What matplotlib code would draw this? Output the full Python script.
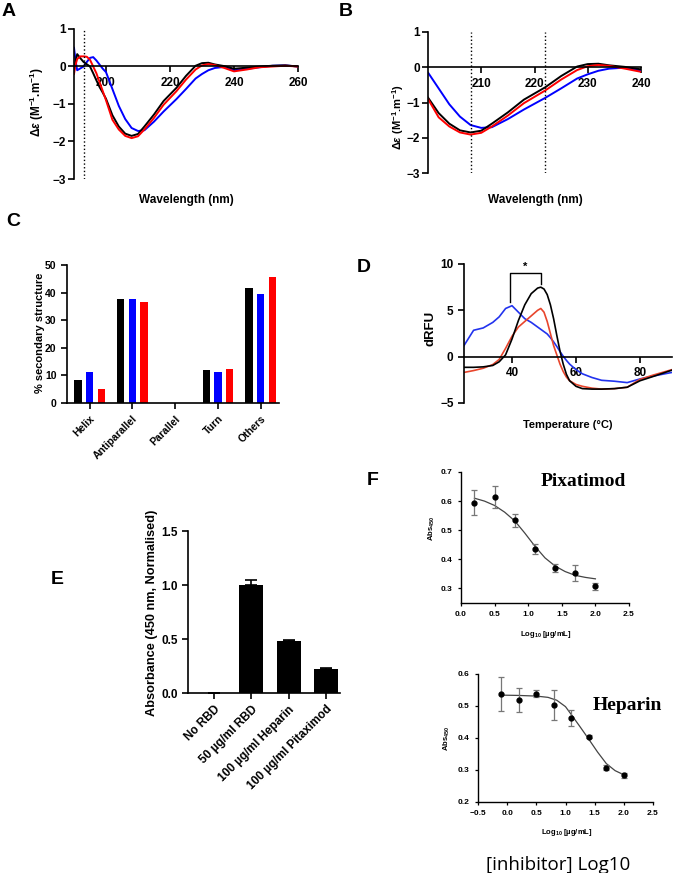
import numpy as np
import matplotlib.pyplot as plt

plt.rcParams['font.family'] = 'Liberation Sans'
plt.rcParams['font.weight'] = 'bold'
plt.rcParams['axes.labelweight'] = 'bold'
plt.rcParams['mathtext.fontset'] = 'custom'
plt.rcParams['mathtext.rm'] = 'Liberation Sans:bold'
plt.rcParams['mathtext.it'] = 'Liberation Sans:italic:bold'
plt.rcParams['mathtext.bf'] = 'Liberation Sans:bold'
plt.rcParams['mathtext.default'] = 'regular'
plt.rcParams['axes.linewidth'] = 1.2
plt.rcParams['xtick.major.width'] = 1.2
plt.rcParams['ytick.major.width'] = 1.2

# --- CD spectra (panels A and B share the data) ---
wavelength = [190, 190.5, 191, 192, 193, 194, 195, 196, 197, 198, 199, 200, 202, 204, 206,
              208, 210, 212, 215, 218, 222, 225, 228, 230, 232, 234, 237, 240, 244, 248,
              252, 256, 260]
cd_black = [-0.1, 0.15, 0.33, 0.22, 0.12, 0.06, 0.0, -0.18, -0.37, -0.55, -0.7, -0.86, -1.3,
            -1.6, -1.79, -1.85, -1.8, -1.6, -1.28, -0.92, -0.57, -0.25, 0.02, 0.09, 0.1, 0.055,
            0.01, -0.06, -0.03, 0.0, 0.02, 0.03, 0.0]
cd_red = [-0.2, 0.05, 0.2, 0.27, 0.27, 0.26, 0.18, 0.0, -0.18, -0.42, -0.66, -0.9, -1.42,
          -1.68, -1.85, -1.91, -1.86, -1.68, -1.37, -1.02, -0.66, -0.35, -0.08, 0.03, 0.065,
          0.04, -0.04, -0.13, -0.08, -0.02, 0.0, 0.02, 0.0]
cd_blue = [0.5, 0.15, -0.1, -0.05, 0.0, 0.12, 0.23, 0.25, 0.16, 0.05, -0.06, -0.15, -0.6,
           -1.05, -1.4, -1.64, -1.72, -1.7, -1.47, -1.2, -0.87, -0.6, -0.32, -0.2, -0.1, -0.04,
           -0.01, -0.1, -0.06, -0.02, 0.02, 0.03, 0.0]
marker_a = [193]
markers_b = [208, 222]

# --- secondary structure (panel C) ---
structures = ['Helix', 'Antiparallel', 'Parallel', 'Turn', 'Others']
ss_black = [8.3, 37.6, 0, 12.0, 41.7]
ss_blue = [11.3, 37.7, 0, 11.1, 39.6]
ss_red = [5.1, 36.7, 0, 12.3, 45.5]

# --- thermal shift (panel D) ---
temperature = [25, 28, 31, 34, 36, 38, 40, 42, 44, 46, 48, 49, 50, 51, 52, 53, 54, 55, 56, 57,
               58, 60, 62, 65, 68, 72, 76, 80, 84, 87, 90]
drfu_black = [-1.15, -1.15, -1.1, -0.95, -0.55, 0.2, 1.9, 3.9, 5.6, 6.8, 7.4, 7.5, 7.3, 6.7,
              5.6, 4.1, 2.3, 0.6, -0.8, -1.9, -2.6, -3.2, -3.45, -3.5, -3.5, -3.45, -3.3, -2.6,
              -2.15, -1.8, -1.45]
drfu_red = [-1.7, -1.5, -1.25, -0.85, -0.3, 0.9, 2.2, 3.2, 3.8, 4.4, 5.0, 5.2, 4.8, 3.8, 2.5,
            1.2, 0.2, -0.8, -1.6, -2.2, -2.6, -3.0, -3.2, -3.4, -3.5, -3.45, -3.3, -2.45, -2.0,
            -1.7, -1.4]
drfu_blue = [1.2, 2.85, 3.1, 3.7, 4.3, 5.2, 5.5, 4.8, 4.1, 3.7, 3.2, 2.95, 2.7, 2.45, 2.05,
             1.6, 1.1, 0.55, 0.05, -0.4, -0.8, -1.4, -1.85, -2.25, -2.55, -2.65, -2.8, -2.4,
             -2.1, -1.9, -1.7]
bracket_x = [39.5, 49.0]
bracket_low = [5.9, 7.8]
bracket_top = 9.0

# --- ELISA (panel E) ---
conditions = ['No RBD', '50 µg/ml RBD', '100 µg/ml Heparin', '100 µg/ml Pitaximod']
absorbance = [0.0, 1.0, 0.48, 0.22]
absorbance_err = [0.0, 0.05, 0.015, 0.012]

# --- dose response (panel F) ---
pix_logc = [0.2, 0.5, 0.8, 1.1, 1.4, 1.7, 2.0]
pix_abs = [0.595, 0.615, 0.534, 0.437, 0.371, 0.352, 0.308]
pix_sd = [0.043, 0.038, 0.022, 0.017, 0.013, 0.028, 0.012]
pix_fit_x = [0.2, 0.35, 0.5, 0.65, 0.8, 0.95, 1.1, 1.25, 1.4, 1.55, 1.7, 1.85, 2.0]
pix_fit_y = [0.610, 0.600, 0.585, 0.562, 0.532, 0.490, 0.445, 0.405, 0.377, 0.358, 0.345,
             0.338, 0.333]
hep_logc = [-0.1, 0.2, 0.5, 0.8, 1.1, 1.4, 1.7, 2.0]
hep_abs = [0.537, 0.519, 0.539, 0.503, 0.463, 0.404, 0.307, 0.283]
hep_sd = [0.053, 0.037, 0.012, 0.047, 0.024, 0.004, 0.008, 0.008]
hep_fit_x = [-0.1, 0.2, 0.5, 0.7, 0.85, 1.0, 1.1, 1.25, 1.4, 1.55, 1.7, 1.85, 2.0]
hep_fit_y = [0.534, 0.533, 0.531, 0.527, 0.518, 0.498, 0.473, 0.435, 0.396, 0.356, 0.320,
             0.298, 0.285]

W, H = 675, 873
fig = plt.figure(figsize=(W / 100, H / 100), dpi=100)


def box(l, t, r, b):
    # axes rectangle from pixel edges
    return [l / W, 1 - b / H, (r - l) / W, (b - t) / H]


def place(axis, x, y):
    axis.set_label_coords(x / W, 1 - y / H, transform=fig.transFigure)
    axis.label.set_va('center')


def clean(ax):
    ax.spines[['top', 'right']].set_visible(False)


def letter(x, y, s):
    fig.text(x / W, 1 - y / H, s, fontsize=14, fontweight='bold', ha='center', va='center')


# Panel A
axA = fig.add_axes(box(74, 29, 298, 179))
axA.plot(wavelength, cd_blue, color='#0000ff', lw=1.4)
axA.plot(wavelength, cd_black, color='black', lw=1.4)
axA.plot(wavelength, cd_red, color='#ff0000', lw=1.4)
for m in marker_a:
    axA.axvline(m, color='black', ls=':', lw=1)
axA.set_xlim(190, 260)
axA.set_ylim(-3, 1)
axA.set_xticks([200, 220, 240, 260])
axA.set_yticks([-3, -2, -1, 0, 1])
clean(axA)
axA.spines['bottom'].set_position(('data', 0))
axA.tick_params(labelsize=8.5, length=4)
axA.tick_params(axis='y', pad=2)
axA.set_xlabel('Wavelength (nm)', fontsize=8.5)
axA.set_ylabel(r'Δ$\mathit{ε}$ (M$^{-1}$.m$^{-1}$)', fontsize=8.5)
place(axA.xaxis, 186, 200)
place(axA.yaxis, 37, 102)

# Panel B
axB = fig.add_axes(box(428, 32, 641, 173))
axB.plot(wavelength, cd_blue, color='#0000ff', lw=1.4)
axB.plot(wavelength, cd_black, color='black', lw=1.4)
axB.plot(wavelength, cd_red, color='#ff0000', lw=1.4)
for m in markers_b:
    axB.axvline(m, color='black', ls=':', lw=1)
axB.set_xlim(200, 240)
axB.set_ylim(-3, 1)
axB.set_xticks([210, 220, 230, 240])
axB.set_yticks([-3, -2, -1, 0, 1])
clean(axB)
axB.spines['bottom'].set_position(('data', 0))
axB.tick_params(labelsize=8.5, length=4)
axB.tick_params(axis='y', pad=2)
axB.set_xlabel('Wavelength (nm)', fontsize=8.5)
axB.set_ylabel(r'Δ$\mathit{ε}$ (M$^{-1}$.m$^{-1}$)', fontsize=8)
place(axB.xaxis, 535, 200)
place(axB.yaxis, 398, 117)

# Panel C
axC = fig.add_axes(box(67, 265, 279, 403))
xc = np.arange(len(structures))
axC.bar(xc - 0.27, ss_black, 0.17, color='black')
axC.bar(xc, ss_blue, 0.17, color='#0000ff')
axC.bar(xc + 0.27, ss_red, 0.17, color='#ff0000')
axC.set_xlim(-0.53, 4.43)
axC.set_ylim(0, 50)
axC.set_yticks([0, 10, 20, 30, 40, 50])
axC.set_xticks(xc)
axC.set_xticklabels(structures, rotation=45, ha='right', rotation_mode='anchor')
clean(axC)
axC.tick_params(labelsize=7.5, length=4)
axC.set_ylabel('% secondary structure', fontsize=8)
place(axC.yaxis, 40, 333)

# Panel D
axD = fig.add_axes(box(464, 264, 672, 403))
axD.plot(temperature, drfu_blue, color='#2233ee', lw=1.2)
axD.plot(temperature, drfu_red, color='#e8452c', lw=1.2)
axD.plot(temperature, drfu_black, color='black', lw=1.2)
axD.plot([bracket_x[0], bracket_x[0], bracket_x[1], bracket_x[1]],
         [bracket_low[0], bracket_top, bracket_top, bracket_low[1]], color='black', lw=1)
axD.text(np.mean(bracket_x), bracket_top + 0.2, '*', ha='center', va='bottom', fontsize=8)
axD.set_xlim(25, 90)
axD.set_ylim(-5, 10)
axD.set_xticks([40, 60, 80])
axD.set_yticks([-5, 0, 5, 10])
clean(axD)
axD.spines['bottom'].set_position(('data', 0))
axD.tick_params(labelsize=8.5, length=4)
axD.set_xlabel('Temperature (°C)', fontsize=8)
axD.set_ylabel('dRFU', fontsize=9.5)
place(axD.xaxis, 568, 425)
place(axD.yaxis, 430, 328)

# Panel E
axE = fig.add_axes(box(188, 531, 340, 693))
xe = np.arange(len(conditions))
axE.bar(xe, absorbance, 0.64, color='black')
axE.errorbar(xe, absorbance, yerr=[np.zeros(len(xe)), absorbance_err], fmt='none',
             ecolor='black', capsize=4, elinewidth=1.2, capthick=1.2)
axE.set_xlim(-0.68, 3.37)
axE.set_ylim(0, 1.5)
axE.set_yticks([0.0, 0.5, 1.0, 1.5])
axE.set_xticks(xe)
axE.set_xticklabels(conditions, rotation=45, ha='right', rotation_mode='anchor')
clean(axE)
axE.tick_params(labelsize=8.5, length=4)
axE.set_ylabel('Absorbance (450 nm, Normalised)', fontsize=9.2)
place(axE.yaxis, 152, 613)

# Panel F, pixatimod
axF1 = fig.add_axes(box(461, 472, 629, 603))
axF1.plot(pix_fit_x, pix_fit_y, color='#444444', lw=0.9)
axF1.errorbar(pix_logc, pix_abs, yerr=pix_sd, fmt='o', color='black', ms=3.5,
              ecolor='#777777', elinewidth=0.9, capsize=2.5, capthick=0.9)
axF1.set_xlim(0, 2.5)
axF1.set_ylim(0.25, 0.7)
axF1.set_xticks([0.0, 0.5, 1.0, 1.5, 2.0, 2.5])
axF1.set_yticks([0.3, 0.4, 0.5, 0.6, 0.7])
clean(axF1)
for s in ['left', 'bottom']:
    axF1.spines[s].set_linewidth(1)
axF1.tick_params(labelsize=6, length=2.5, width=0.9)
axF1.set_xlabel(r'Log$_{10}$ [µg/mL]', fontsize=5.5)
axF1.set_ylabel(r'Abs$_{450}$', fontsize=5.5)
place(axF1.xaxis, 546, 635)
place(axF1.yaxis, 432, 528)
fig.text(583 / W, 1 - 481 / H, 'Pixatimod', family='Liberation Serif', fontweight='bold',
         fontsize=14, ha='center', va='center')

# Panel F, heparin
axF2 = fig.add_axes(box(478, 674, 653, 802))
axF2.plot(hep_fit_x, hep_fit_y, color='#444444', lw=0.9)
axF2.errorbar(hep_logc, hep_abs, yerr=hep_sd, fmt='o', color='black', ms=3.5,
              ecolor='#777777', elinewidth=0.9, capsize=2.5, capthick=0.9)
axF2.set_xlim(-0.5, 2.5)
axF2.set_ylim(0.2, 0.6)
axF2.set_xticks([-0.5, 0.0, 0.5, 1.0, 1.5, 2.0, 2.5])
axF2.set_yticks([0.2, 0.3, 0.4, 0.5, 0.6])
clean(axF2)
for s in ['left', 'bottom']:
    axF2.spines[s].set_linewidth(1)
axF2.tick_params(labelsize=6, length=2.5, width=0.9)
axF2.set_xlabel(r'Log$_{10}$ [µg/mL]', fontsize=5.5)
axF2.set_ylabel(r'Abs$_{450}$', fontsize=5.5)
place(axF2.xaxis, 567, 833)
place(axF2.yaxis, 447, 738)
fig.text(627 / W, 1 - 705 / H, 'Heparin', family='Liberation Serif', fontweight='bold',
         fontsize=14, ha='center', va='center')
fig.text(558 / W, 1 - 865 / H, '[inhibitor] Log10', family='Open Sans', fontweight='normal',
         fontsize=13.5, ha='center', va='center')

letter(9, 11, 'A')
letter(346, 11, 'B')
letter(13, 222, 'C')
letter(364, 268, 'D')
letter(57, 580, 'E')
letter(373, 480, 'F')

fig.savefig('out.png', dpi=100)
